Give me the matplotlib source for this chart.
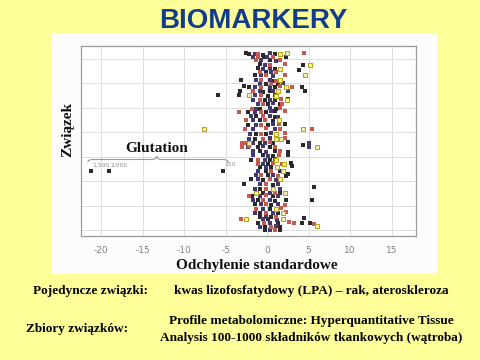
import matplotlib
matplotlib.use("Agg")
import matplotlib.pyplot as plt
from matplotlib.patches import Rectangle, PathPatch
from matplotlib.path import Path

# ---------------- data (x = standard deviation, y = compound index) ----------------
black_x = [-2.6, -2.2, -0.55, 0.9, -0.4, 2.3, 0.3, -0.9, 4.3, -1.05, 0.9, 3.85, -0.15, -1.5,
           -3.2, 0.7, -0.1, 1.3, -2.8, -2.2, 0.9, 4.2, 4.6, -3.3, -0.5, 0.3, -5.9, -3.4, 0.1,
           -0.3, 0.9, 2.5, 0.1, 1.5, -0.9, 1.1, -2.3, -0.1, 0.9, -1.3, 0.9, -0.9, 0.7, -2.3,
           0.1, 2.1, -1.3, -0.1, -1.5, -0.9, 0.7, 2.5, 4.3, -1.1, 0.3, -0.9, 0.9, 2.5, -0.5,
           0.7, 2.5, -1.9, 0.3, 0.1, 2.9, -0.9, 0.5, 3.0, -21.2, -19.0, -5.3, -0.1, 1.5, 2.5,
           0.1, 2.3, -2.0, -0.5, -2.8, 0.7, 5.6, -0.9, -0.5, 1.5, -1.8, 0.7, -1.1, 0.9, 2.3,
           5.45, -1.5, 0.5, 0.3, -0.9, 1.3, -0.9, 0.5, 4.5, 0.1, -1.1, 1.3, 4.25, 5.2, -0.3,
           1.6, -0.3, 1.6]
black_y = [366, 364, 363, 365, 359, 358, 352, 344, 343, 336, 334, 333, 329, 322,
           312, 311, 305, 304, 300, 298, 299, 299, 291, 290, 289, 291, 282, 283, 281,
           273, 272, 274, 265, 264, 255, 254, 249, 248, 250, 240, 239, 232, 231, 223,
           222, 224, 205, 204, 195, 187, 186, 188, 182, 179, 178, 170, 171, 169, 162,
           161, 163, 153, 152, 145, 146, 139, 138, 140, 131, 131, 131, 131, 130, 125,
           122, 121, 114, 113, 104, 103, 99, 95, 87, 86, 81, 80, 72, 71, 73,
           72, 64, 63, 55, 47, 46, 39, 38, 37, 34, 27, 26, 27, 27, 19,
           18, 13, 12]

navy_x = [-1.5, 0.3, -1.7, 0.0, -0.7, 1.05, -0.3, -0.5, 0.3, 0.5, -0.7, 0.7, -1.3, 0.3,
          -0.9, 1.9, -1.5, 0.3, -0.9, 0.7, 2.5, -1.4, 0.9, -1.7, 0.3, -1.1, 0.7, -1.3, 0.3,
          -1.5, 0.5, -1.9, 0.3, 1.3, -1.7, -1.3, 0.7, -1.7, 0.9, -2.1, 0.5, -2.2, 0.3,
          -1.7, -0.25, 5.05, -2.3, -0.5, 5.05, -1.7, -0.1, -1.7, 0.1, -0.3, 0.9, -0.5,
          -0.1, -1.1, -1.3, 0.7, -1.1, 1.1, -0.9, 1.3, -1.5, 1.5, 0.3, -0.9, 1.3, -1.7,
          0.3, -0.7, 1.3, -0.5, -1.5, 0.7, -0.1, -0.5, 1.2, 0.3, -0.9, 1.1, 0.3]
navy_y = [365, 367, 359, 358, 352, 351, 343, 335, 336, 329, 322, 321, 312, 313,
          305, 306, 299, 298, 290, 291, 290, 282, 283, 273, 272, 265, 266, 255, 256,
          249, 250, 240, 241, 239, 232, 223, 224, 215, 214, 205, 206, 195, 196,
          187, 186, 186, 179, 180, 179, 170, 169, 162, 161, 153, 154, 145,
          139, 131, 122, 123, 114, 113, 104, 105, 95, 94, 87, 81, 80, 72,
          73, 64, 65, 55, 47, 46, 39, 34, 33, 27, 19, 20, 13]

red_x = [-1.1, 4.45, -1.1, 0.7, -1.3, 1.5, 0.3, 2.2, -0.9, 1.1, -0.1, 2.2, -0.7, 1.1,
         0.5, -0.7, 1.5, 3.0, -1.7, -0.7, -0.9, 1.7, -0.5, 1.8, -1.85, 1.5, -3.4, -0.7,
         2.2, -0.55, -2.6, -0.3, -0.7, 1.4, -2.7, -0.1, 1.5, 5.35, -0.7, 2.1, -0.5, 2.2,
         -3.0, -2.5, 0.3, -3.05, -2.2, 0.9, 1.5, 1.45, -1.1, -1.1, 0.7, 1.85, 0.5, -0.7,
         1.3, 0.3, -0.1, -0.1, 0.9, -2.2, -0.1, -0.5, -0.1, 2.1, -1.3, 1.7, -0.1, 2.3,
         1.1, -3.1, -0.4, 2.6, 3.25, 5.6, 0.5, 0.9]
red_y = [365, 366, 359, 358, 352, 352, 343, 344, 329, 328, 322, 323, 312, 311,
         305, 299, 300, 299, 290, 282, 273, 274, 265, 264, 255, 256, 249, 248,
         250, 240, 232, 233, 223, 224, 215, 216, 214, 215, 205, 206, 195, 196,
         187, 187, 188, 179, 180, 178, 170, 162, 153, 145, 146, 144, 131, 122,
         121, 114, 104, 95, 87, 81, 82, 72, 64, 63, 55, 56, 47, 48,
         39, 34, 27, 28, 27, 25, 19, 13]

yellow_x = [1.5, 2.45, 5.2, 1.5, 4.6, 1.6, 2.3, 1.3, -2.2, 1.05, 2.45, 1.4, -7.6, 4.3,
            1.1, 1.05, 1.7, -2.2, 5.95, 1.1, 2.05, 1.2, 1.9, 1.5, 0.7, -1.3, 2.2, 1.05,
            1.9, -2.5, 1.9, 5.95]
yellow_y = [364, 367, 343, 335, 322, 312, 299, 291, 282, 281, 273, 232, 215, 215,
            205, 195, 194, 187, 179, 153, 145, 139, 131, 114, 95, 87, 87, 55,
            47, 34, 34, 21]

x_ticks = [-20, -15, -10, -5, 0, 5, 10, 15]
y_grid = [12, 61, 110, 159, 208, 257, 306, 355]

gluta_x = [-21.2, -19.0, -5.3]
gluta_labels = ["1,500", "2,000", "150"]

# ---------------- figure ----------------
W, H = 480, 360
fig = plt.figure(figsize=(4.8, 3.6), dpi=100, facecolor="#FFFF99")

def fx(px):
    return px / W

def fy(py):
    return 1 - py / H

# white picture panel (behind the axes)
fig.patches.append(Rectangle((fx(52), fy(274)), fx(385), (274 - 33) / H,
                             transform=fig.transFigure, facecolor="#FCFCFA",
                             edgecolor="none", zorder=-5))

fig.text(fx(253), fy(28), "BIOMARKERY", ha="center", va="baseline",
         fontsize=20, fontweight="bold", color="#123C8C", family="Liberation Sans")

ax = fig.add_axes([fx(80.7), fy(236), (416 - 80.7) / W, 190 / H])
ax.set_zorder(2)
ax.set_facecolor("white")
ax.set_xlim(-22.45, 17.93)
ax.set_ylim(0, 380)
ax.set_xticks(x_ticks)
ax.set_xticklabels([str(t) for t in x_ticks])
ax.set_yticks(y_grid)
ax.set_yticklabels([])
ax.tick_params(axis="both", length=0)
ax.tick_params(axis="x", pad=7, labelsize=6.5, labelcolor="#808080")
ax.grid(True, color="#DDDDDD", linewidth=0.7)
ax.set_axisbelow(True)
for s in ax.spines.values():
    s.set_color("#9A9A9A")
    s.set_linewidth(0.9)

ms = 12
ax.scatter(black_x, black_y, s=ms, marker="s", color="#2A2A2E", linewidths=0, zorder=3)
ax.scatter(navy_x, navy_y, s=ms, marker="s", color="#42396E", linewidths=0, zorder=3)
ax.scatter(red_x, red_y, s=ms, marker="s", color="#C45A50", linewidths=0, zorder=3)
ax.scatter(yellow_x, yellow_y, s=ms, marker="s", facecolor="#F4EFA8",
           edgecolor="#B9A800", linewidths=0.7, zorder=3)

# Glutation annotation
ax.text(-13.3, 175, "Glutation", ha="center", va="center", fontsize=11,
        fontweight="bold", family="Liberation Serif", color="#111111")
for gx, gl in zip(gluta_x, gluta_labels):
    ax.text(gx + 0.1, 142, gl, ha="left", va="center", fontsize=4.3, color="#888888")

x0, x1, xm = -21.6, -4.7, -13.3
yb, yl, yt = 147, 153, 160
verts = [(x0, yb), (x0, yl), (x0 + 0.6, yl), (x0 + 0.6, yl),
         (xm - 0.6, yl), (xm, yl), (xm, yt),
         (xm, yl), (xm + 0.6, yl),
         (x1 - 0.6, yl), (x1, yl), (x1, yb)]
codes = [Path.MOVETO, Path.CURVE3, Path.CURVE3, Path.LINETO,
         Path.LINETO, Path.CURVE3, Path.CURVE3,
         Path.CURVE3, Path.CURVE3,
         Path.LINETO, Path.CURVE3, Path.CURVE3]
ax.add_patch(PathPatch(Path(verts, codes), facecolor="none", edgecolor="#999999",
                       linewidth=0.8, zorder=2))

fig.text(fx(68), fy(129), "Związek", rotation=90, ha="center", va="center",
         fontsize=11, fontweight="bold", family="Liberation Serif", color="#111111")
fig.text(fx(257), fy(265), "Odchylenie standardowe", ha="center", va="center",
         fontsize=11, fontweight="bold", family="Liberation Serif", color="#111111")

# slide text below
tk = dict(fontsize=9.5, fontweight="bold", family="Liberation Serif", color="black",
          va="center")
fig.text(fx(90), fy(291), "Pojedyncze związki:", ha="center", **tk)
fig.text(fx(311), fy(291), "kwas lizofosfatydowy (LPA) – rak, ateroskleroza", ha="center", **tk)
fig.text(fx(77), fy(329), "Zbiory związków:", ha="center", **tk)
fig.text(fx(311), fy(321), "Profile metabolomiczne: Hyperquantitative Tissue", ha="center", **tk)
fig.text(fx(311), fy(338), "Analysis 100-1000 składników tkankowych (wątroba)", ha="center", **tk)

fig.savefig("out.png", dpi=100, facecolor=fig.get_facecolor())
